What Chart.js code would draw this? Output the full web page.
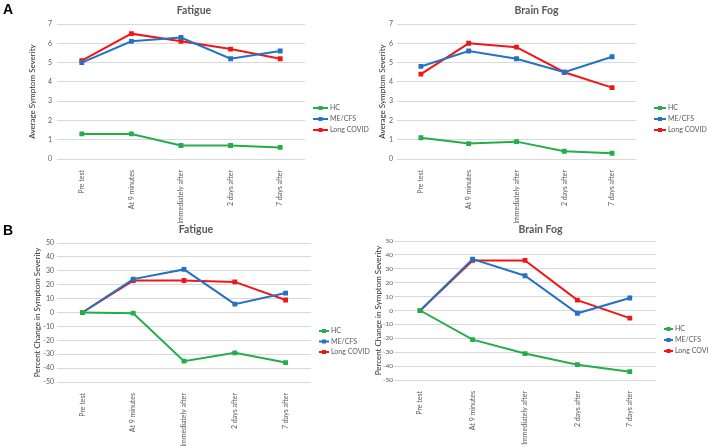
<!DOCTYPE html>
<html>
<head>
<meta charset="utf-8">
<script src="https://cdn.jsdelivr.net/npm/chart.js@4"></script>
<style>
  body { margin: 0; background: #fff; width: 708px; height: 446px; position: relative; overflow: hidden; font-family: Lato, sans-serif; }
  canvas { position: absolute; }
  .panel { position: absolute; font-weight: bold; font-size: 14px; color: #000; font-family: "Liberation Sans", Arial, sans-serif; }
</style>
</head>
<body>
<canvas id="fatigueAvg" width="388" height="223" style="left:0;top:0;"></canvas>
<canvas id="fogAvg" width="365" height="223" style="left:354px;top:0;"></canvas>
<canvas id="fatiguePct" width="392" height="223" style="left:0;top:223px;"></canvas>
<canvas id="fogPct" width="373" height="223" style="left:354px;top:223px;"></canvas>
<div class="panel" style="left:3px;top:1px;">A</div>
<div class="panel" style="left:3px;top:222px;">B</div>
<script>
const timepoints = ['Pre test', 'At 9 minutes', 'Immediately after', '2 days after', '7 days after'];
const seriesNames = ['HC', 'ME/CFS', 'Long COVID'];

// A: average symptom severity
const fatigueAvgHC = [1.3, 1.3, 0.7, 0.7, 0.6];
const fatigueAvgME = [5.0, 6.1, 6.3, 5.2, 5.6];
const fatigueAvgLC = [5.1, 6.5, 6.1, 5.7, 5.2];
const fogAvgHC = [1.1, 0.8, 0.9, 0.4, 0.3];
const fogAvgME = [4.8, 5.6, 5.2, 4.5, 5.3];
const fogAvgLC = [4.4, 6.0, 5.8, 4.5, 3.7];

// B: percent change from pre test
const fatiguePctHC = [0, -0.5, -35, -29, -36];
const fatiguePctME = [0, 24, 31, 6, 14];
const fatiguePctLC = [0, 23, 23, 22, 9];
const fogPctHC = [0, -21, -31, -39, -44];
const fogPctME = [0, 37, 25, -2, 9];
const fogPctLC = [0, 36, 36, 7.5, -5.5];

const colors = ['#25ad4a', '#2472c4', '#f01616'];
const textGray = '#595959';

// excel style legend: short line with marker, then label
const sideLegend = {
    id: 'sideLegend',
    afterDraw(chart, args, opts) {
        const ctx = chart.ctx;
        ctx.save();
        ctx.font = '7px Lato';
        ctx.textBaseline = 'middle';
        chart.data.datasets.forEach((ds, i) => {
            const y = opts.y + i * opts.step;
            ctx.strokeStyle = ds.borderColor;
            ctx.lineWidth = 2;
            ctx.beginPath();
            ctx.moveTo(opts.x, y);
            ctx.lineTo(opts.x + opts.len, y);
            ctx.stroke();
            ctx.fillStyle = ds.borderColor;
            ctx.fillRect(opts.x + opts.len / 2 - 2, y - 2, 4, 4);
            ctx.fillStyle = textGray;
            ctx.fillText(ds.label, opts.x + opts.len + 2, y);
        });
        ctx.restore();
    }
};

function makeChart(id, title, hc, me, lc, cfg) {
    const ctx = document.getElementById(id).getContext('2d');
    return new Chart(ctx, {
        type: 'line',
        data: {
            labels: timepoints,
            datasets: [hc, me, lc].map((vals, i) => ({
                label: seriesNames[i],
                data: vals,
                borderColor: colors[i],
                backgroundColor: colors[i],
                borderWidth: 2,
                pointStyle: 'rect',
                pointRadius: 2,
                tension: 0,
                fill: false
            }))
        },
        options: {
            responsive: false,
            animation: false,
            layout: { padding: 0 },
            plugins: {
                legend: { display: false },
                tooltip: { enabled: false },
                title: {
                    display: true,
                    text: title,
                    color: textGray,
                    font: { family: 'Lato', size: 10.5, weight: 'bold' },
                    padding: cfg.titlePad
                },
                sideLegend: cfg.legend
            },
            scales: {
                x: {
                    offset: true,
                    grid: { display: false },
                    border: { display: false },
                    ticks: {
                        color: textGray,
                        font: { family: 'Lato', size: 7 },
                        minRotation: 90,
                        maxRotation: 90,
                        padding: 3
                    },
                    afterFit: (s) => { s.height = cfg.xHeight; }
                },
                y: {
                    min: cfg.yMin,
                    max: cfg.yMax,
                    grid: { color: '#d9d9d9', drawTicks: false },
                    border: { display: false },
                    ticks: {
                        stepSize: cfg.yStep,
                        color: textGray,
                        font: { family: 'Lato', size: cfg.tickSize },
                        padding: cfg.tickPad
                    },
                    title: {
                        display: true,
                        text: cfg.yTitle,
                        color: '#333333',
                        font: { family: 'Lato', size: 8 },
                        padding: { top: cfg.yTitleOffset, bottom: 0 }
                    },
                    afterFit: (s) => { s.width = cfg.yWidth; }
                },
                // empty scale on the right keeps room for the legend
                legendSpace: {
                    type: 'linear',
                    position: 'right',
                    grid: { display: false },
                    border: { display: false },
                    ticks: { display: false },
                    afterFit: (s) => { s.width = cfg.rightSpace; }
                }
            }
        },
        plugins: [sideLegend]
    });
}

makeChart('fatigueAvg', 'Fatigue', fatigueAvgHC, fatigueAvgME, fatigueAvgLC, {
    yWidth: 57, yTitleOffset: 28, tickPad: 5, tickSize: 7, rightSpace: 83, xHeight: 64,
    titlePad: { top: 4.7, bottom: 6.7 },
    yMin: 0, yMax: 7, yStep: 1, yTitle: 'Average Symptom Severity',
    legend: { x: 313, y: 108, step: 11, len: 15 }
});
makeChart('fogAvg', 'Brain Fog', fogAvgHC, fogAvgME, fogAvgLC, {
    yWidth: 43, yTitleOffset: 24, tickPad: 4, tickSize: 7, rightSpace: 83, xHeight: 64,
    titlePad: { top: 4.7, bottom: 6.7 },
    yMin: 0, yMax: 7, yStep: 1, yTitle: 'Average Symptom Severity',
    legend: { x: 300, y: 108, step: 11, len: 12 }
});
makeChart('fatiguePct', 'Fatigue', fatiguePctHC, fatiguePctME, fatiguePctLC, {
    yWidth: 57, yTitleOffset: 32.6, tickPad: 3, tickSize: 7, rightSpace: 81, xHeight: 64,
    titlePad: { top: 0.7, bottom: 6.7 },
    yMin: -50, yMax: 50, yStep: 10, yTitle: 'Percent Change in Symptom Severity',
    legend: { x: 319, y: 108, step: 10.5, len: 10 }
});
makeChart('fogPct', 'Brain Fog', fogPctHC, fogPctME, fogPctLC, {
    yWidth: 40, yTitleOffset: 20, tickPad: 1, tickSize: 6.5, rightSpace: 71, xHeight: 66,
    titlePad: { top: 0.2, bottom: 5.2 },
    yMin: -50, yMax: 50, yStep: 10, yTitle: 'Percent Change in Symptom Severity',
    legend: { x: 310, y: 106, step: 11, len: 9 }
});
</script>
</body>
</html>
